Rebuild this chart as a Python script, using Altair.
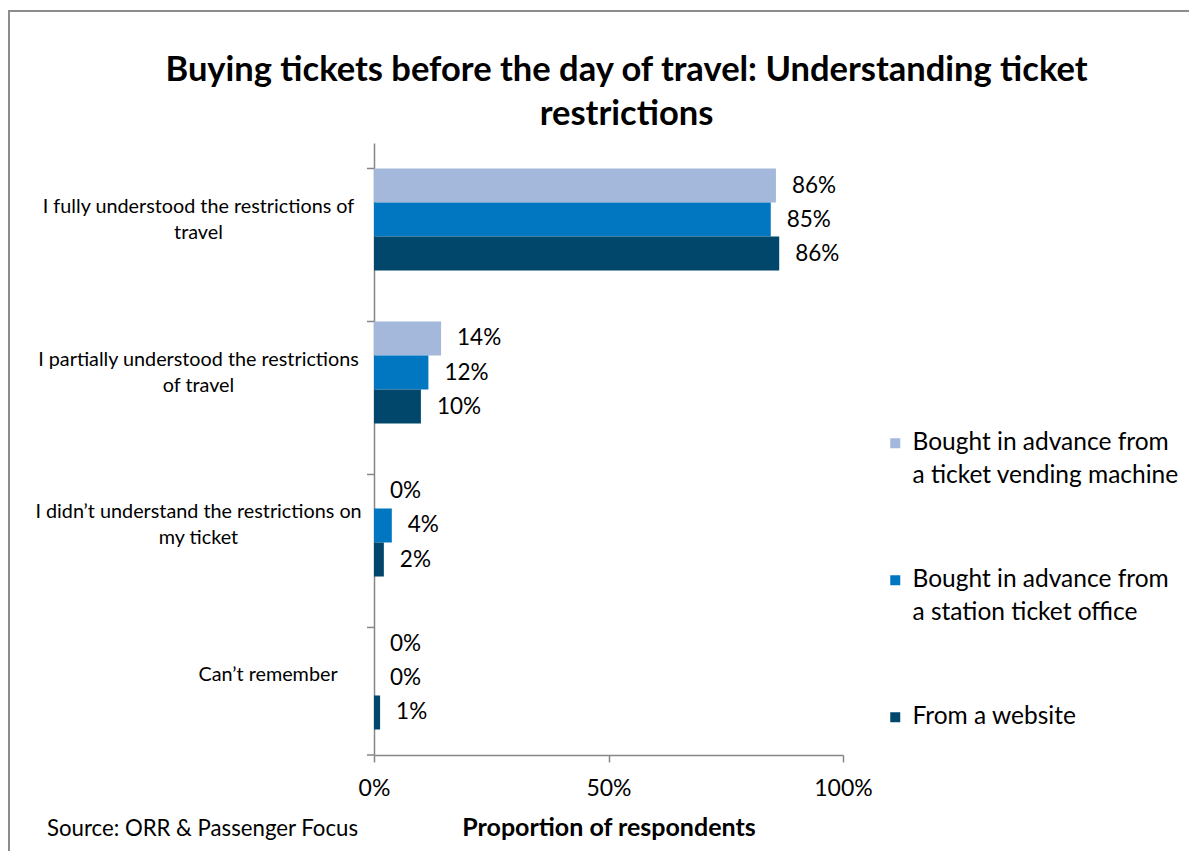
import json
import altair as alt
import pandas as pd

# ---------------- data ----------------
CATEGORY_LINES = [
    ["I fully understood the restrictions of", "travel"],
    ["I partially understood the restrictions", "of travel"],
    ["I didn\u2019t understand the restrictions on", "my ticket"],
    ["Can\u2019t remember"],
]
CATEGORIES = [" ".join(l) for l in CATEGORY_LINES]

SERIES_LINES = [
    ["Bought in advance from", "a ticket vending machine"],
    ["Bought in advance from", "a station ticket office"],
    ["From a website"],
]
SERIES = [" ".join(l) for l in SERIES_LINES]

VENDING = [85.7, 14.3, 0.0, 0.0]
OFFICE = [84.6, 11.6, 3.8, 0.0]
WEBSITE = [86.4, 10.0, 2.1, 1.3]

COLORS = ["#A3B8DA", "#0077C0", "#00476B"]
X_TICKS = [0, 50, 100]
TITLE_LINES = ["Buying tickets before the day of travel: Understanding ticket", "restrictions"]
X_TITLE = "Proportion of respondents"
SOURCE = "Source: ORR & Passenger Focus"

rows = []
for s, vals in zip(SERIES, [VENDING, OFFICE, WEBSITE]):
    for c, v in zip(CATEGORIES, vals):
        rows.append({"category": c, "series": s, "value": v})
df = pd.DataFrame(rows)


def lines_expr(full, parts, field="datum.label"):
    expr = field
    for f, p in zip(reversed(full), reversed(parts)):
        expr = f"{field} == {json.dumps(f)} ? {json.dumps(p)} : ({expr})"
    return expr


FONT = "Lato"
GRAY = "#868686"
W, H = 469, 612

single_line_test = f"datum.value == {json.dumps(CATEGORIES[3])}"

y_enc = alt.Y(
    "category:N",
    sort=CATEGORIES,
    scale=alt.Scale(domain=CATEGORIES, paddingInner=0.333, paddingOuter=0.1667),
    axis=alt.Axis(
        title=None,
        ticks=False,
        tickSize=0,
        domainColor=GRAY,
        domainWidth=1.5,
        labelExpr=lines_expr(CATEGORIES, CATEGORY_LINES),
        labelAlign={"condition": {"test": single_line_test, "value": "left"}, "value": "center"},
        labelBaseline={"condition": {"test": single_line_test, "value": "top"}, "value": "middle"},
        labelOffset=-13,
        labelPadding=176,
        labelFont=FONT,
        labelFontSize=19.8,
        labelColor="black",
        labelLineHeight=26,
        labelLimit=0,
    ),
)

x_enc = alt.X(
    "value:Q",
    scale=alt.Scale(domain=[0, 100], nice=False),
    axis=alt.Axis(
        values=X_TICKS,
        labelExpr="datum.value + '%'",
        labelFlush=False,
        grid=False,
        tickSize=7,
        tickColor=GRAY,
        tickWidth=1.5,
        domainColor=GRAY,
        domainWidth=1.5,
        labelPadding=15,
        labelFont=FONT,
        labelFontSize=23,
        labelColor="black",
        title=X_TITLE,
        titleFont=FONT,
        titleFontSize=25,
        titleFontWeight="bold",
        titleColor="black",
        titlePadding=15,
    ),
)

yoff = alt.YOffset("series:N", sort=SERIES,
                   scale=alt.Scale(domain=SERIES, paddingInner=0, paddingOuter=0))

base = alt.Chart(df)

bars = base.mark_bar().encode(
    x=x_enc,
    y=y_enc,
    yOffset=yoff,
    color=alt.Color(
        "series:N",
        sort=SERIES,
        scale=alt.Scale(domain=SERIES, range=COLORS),
        legend=alt.Legend(
            orient="none",
            legendX=509,
            legendY=288,
            title=None,
            symbolType="square",
            symbolSize=100,
            symbolStrokeWidth=0,
            labelFont=FONT,
            labelFontSize=24.5,
            labelLimit=0,
            labelOffset=5,
            rowPadding=79,
            labelColor="black",
            labelExpr=lines_expr(SERIES, SERIES_LINES),
        ),
    ),
)

labels = base.transform_calculate(
    label="format(datum.value, '.0f') + '%'"
).mark_text(align="left", baseline="middle", dx=16, font=FONT, fontSize=22.5, color="black").encode(
    x=alt.X("value:Q"),
    y=alt.Y("category:N", sort=CATEGORIES),
    yOffset=yoff,
    text="label:N",
)

cat_df = pd.DataFrame({"category": CATEGORIES})
yticks = alt.Chart(cat_df).mark_rule(color=GRAY, strokeWidth=1.5).encode(
    y=alt.Y("category:N", sort=CATEGORIES, bandPosition=0),
    x=alt.value(-7),
    x2=alt.value(0),
)

deco_df = pd.DataFrame({"source": [SOURCE]})
bottom_tick = alt.Chart(deco_df).mark_rule(color=GRAY, strokeWidth=1.5).encode(
    y=alt.value(H), x=alt.value(-7), x2=alt.value(0)
)
frame = alt.Chart(deco_df).mark_rect(fill=None, stroke="#8C8C8C", strokeWidth=2).encode(
    x=alt.value(-365), x2=alt.value(1400), y=alt.value(-132), y2=alt.value(1000)
)
source = alt.Chart(deco_df).mark_text(
    align="left", baseline="middle", font=FONT, fontSize=22.2, color="black"
).encode(text="source:N", x=alt.value(-327), y=alt.value(H + 74))

chart = (
    alt.layer(frame, bars, labels, yticks, bottom_tick, source)
    .properties(
        width=W,
        height=H,
        title=alt.TitleParams(
            text=TITLE_LINES,
            font=FONT,
            fontSize=34.5,
            fontWeight="bold",
            color="black",
            anchor="middle",
            dx=18,
            dy=136,
            offset=14,
            lineHeight=44,
        ),
        autosize=alt.AutoSizeParams(type="none"),
        padding={"left": 366, "top": 135, "right": 346, "bottom": 96},
        background="white",
    )
    .configure(style={"guide-label": {"lineHeight": 33}})
    .configure_view(stroke=None)
)

chart.save("out.html", embed_options={"renderer": "svg", "actions": False})
